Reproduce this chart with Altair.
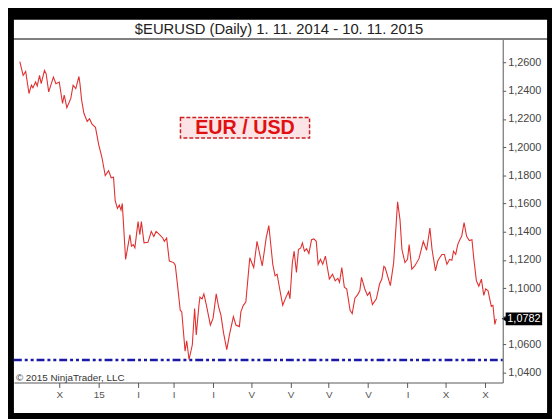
import altair as alt
import pandas as pd

# ---- data (day = days since 1 Nov 2014) ----
days = [-1.0, 1.6, 3.6, 6.2, 8.1, 9.3, 11.4, 12.7, 14.5, 15.8, 18.4, 19.7, 21.7, 25.4, 27.4,
        30.0, 32.6, 33.9, 36.0, 39.1, 40.9, 43.0, 45.5, 46.3, 47.6, 49.4, 52.0, 53.8, 55.8,
        58.5, 61.0, 63.6, 66.2, 68.8, 70.9, 72.7, 74.0, 75.8, 77.3, 78.6, 79.6, 82.2, 85.6,
        86.8, 88.2, 89.5, 92.0, 93.4, 94.6, 96.7, 99.8, 102.4, 104.4, 106.2, 108.9, 111.4,
        112.7, 114.5, 116.6, 120.0, 121.3, 123.1, 125.2, 126.4, 127.7, 129.0, 130.3, 132.1,
        134.7, 136.5, 137.8, 139.9, 140.7, 142.4, 143.8, 145.8, 148.9, 151.0, 153.5, 155.4,
        157.2, 159.3, 161.8, 163.9, 167.0, 169.0, 171.7, 172.9, 174.8, 176.8, 179.9, 183.0,
        185.6, 189.7, 192.8, 194.9, 198.0, 199.8, 201.4, 203.2, 205.8, 208.4, 210.4, 211.5,
        213.4, 214.8, 216.6, 218.2, 220.0, 221.3, 222.9, 224.6, 226.4, 228.5, 230.3, 232.2,
        233.7, 235.5, 237.3, 239.4, 242.5, 245.0, 247.1, 249.2, 250.5, 252.3, 254.3, 256.2,
        258.8, 260.5, 262.6, 264.7, 266.5, 267.8, 270.4, 272.5, 274.3, 276.4, 279.5, 282.0,
        283.8, 285.4, 286.4, 290.5, 293.1, 296.2, 298.1, 299.6, 302.0, 304.0, 305.3, 307.4,
        309.7, 313.0, 316.4, 319.0, 321.6, 323.3, 326.0, 327.8, 329.3, 331.1, 333.0, 335.0,
        337.1, 338.9, 340.2, 341.9, 343.5, 345.4, 346.6, 348.5, 350.5, 352.6, 354.7, 356.2,
        358.2, 360.1, 362.1, 364.0, 365.5, 367.3, 369.9, 371.2, 372.7, 373.8]
rates = [1.2608, 1.2510, 1.2538, 1.2381, 1.2440, 1.2421, 1.2463, 1.2435, 1.2510, 1.2451,
         1.2545, 1.2521, 1.2393, 1.2498, 1.2451, 1.2463, 1.2311, 1.2370, 1.2281, 1.2346,
         1.2440, 1.2416, 1.2502, 1.2451, 1.2335, 1.2241, 1.2183, 1.2202, 1.2164, 1.2141,
         1.2020, 1.1927, 1.1799, 1.1834, 1.1783, 1.1787, 1.1620, 1.1566, 1.1589, 1.1554,
         1.1601, 1.1204, 1.1379, 1.1298, 1.1309, 1.1286, 1.1472, 1.1379, 1.1472, 1.1321,
         1.1325, 1.1402, 1.1367, 1.1402, 1.1379, 1.1356, 1.1332, 1.1356, 1.1192, 1.1181,
         1.1162, 1.1018, 1.0843, 1.0831, 1.0692, 1.0552, 1.0626, 1.0493, 1.0598, 1.0855,
         1.0668, 1.0878, 1.0936, 1.0924, 1.0959, 1.0878, 1.0738, 1.0785, 1.0959, 1.0866,
         1.0808, 1.0680, 1.0563, 1.0668, 1.0797, 1.0738, 1.0727, 1.0831, 1.0878, 1.0901,
         1.1216, 1.1146, 1.1332, 1.1157, 1.1356, 1.1444, 1.1169, 1.1087, 1.1099, 1.1006,
         1.0878, 1.0936, 1.0976, 1.0924, 1.1181, 1.1262, 1.1111, 1.1274, 1.1286, 1.1321,
         1.1262, 1.1279, 1.1246, 1.1344, 1.1349, 1.1332, 1.1169, 1.1204, 1.1169, 1.1227,
         1.1064, 1.1099, 1.1052, 1.1069, 1.1041, 1.1146, 1.1006, 1.0994, 1.0843, 1.0820,
         1.0929, 1.0952, 1.0983, 1.1076, 1.0994, 1.0948, 1.0971, 1.0883, 1.0924, 1.1029,
         1.1064, 1.1154, 1.1146, 1.1018, 1.1181, 1.1612, 1.1484, 1.1274, 1.1181, 1.1204,
         1.1309, 1.1134, 1.1157, 1.1209, 1.1332, 1.1269, 1.1426, 1.1274, 1.1122, 1.1192,
         1.1216, 1.1239, 1.1239, 1.1169, 1.1204, 1.1197, 1.1262, 1.1239, 1.1309, 1.1349,
         1.1367, 1.1465, 1.1367, 1.1337, 1.1344, 1.1204, 1.1052, 1.1013, 1.1064, 1.0948,
         1.0994, 1.0983, 1.0871, 1.0878, 1.0743, 1.0782]

month_days = [30, 61, 92, 120, 151, 181, 212, 242, 273, 304, 334, 365]
month_labels = ["X", "15", "I", "I", "I", "V", "V", "V", "V", "I", "X", "X"]
y_ticks = [1.04, 1.06, 1.08, 1.10, 1.12, 1.14, 1.16, 1.18, 1.20, 1.22, 1.24, 1.26]
support_level = 1.049
last_rate = 1.0782
last_label = "1,0782"
title_text = "$EURUSD (Daily)  1. 11. 2014 - 10. 11. 2015"
badge_text = "EUR / USD"
copyright_text = "© 2015 NinjaTrader, LLC"

df = pd.DataFrame({"day": days, "rate": rates})
one = pd.DataFrame({"k": [0]})
lvl = pd.DataFrame({"level": [support_level]})
last = pd.DataFrame({"rate": [last_rate], "hi": [last_rate + 0.0045],
                     "lo": [last_rate - 0.0045], "label": [last_label]})

W, H = 496, 348
FONT = "Liberation Sans"
xs = alt.Scale(domain=[-5.66, 378.9], nice=False, zero=False)
ys = alt.Scale(domain=[1.0330, 1.2764], nice=False, zero=False)

lab_arr = "[" + ",".join("'%s'" % s for s in month_labels) + "]"
day_arr = "[" + ",".join(str(d) for d in month_days) + "]"

x_axis = alt.Axis(values=month_days, title=None, orient="bottom",
                  labelExpr=f"{lab_arr}[indexof({day_arr}, datum.value)]",
                  domainColor="#555", tickColor="#555", tickSize=5, labelColor="#555",
                  labelFont=FONT, labelFontSize=10, labelPadding=2, grid=False, zindex=1,
                  labelOverlap=False)
# the 1,0800 label is covered by the last-price badge in the reference
y_axis = alt.Axis(values=y_ticks, title=None, orient="right",
                  labelExpr="abs(datum.value - 1.08) < 0.001 ? '' : replace(format(datum.value, '.4f'), '.', ',')",
                  domainColor="#555", tickColor="#555", tickSize=3, labelColor="#444",
                  labelFont=FONT, labelFontSize=11, labelPadding=2, grid=False, zindex=1,
                  labelOverlap=False)

panel = alt.Chart(one).mark_rect(color="white").encode(
    x=alt.value(0), x2=alt.value(541), y=alt.value(0), y2=alt.value(379))
title_bar = alt.Chart(one).mark_rect(color="white").encode(
    x=alt.value(0), x2=alt.value(541), y=alt.value(-20), y2=alt.value(-1))
title = alt.Chart(one).mark_text(font=FONT, fontSize=15, color="#222", baseline="middle").encode(
    x=alt.value(269), y=alt.value(-10.5), text=alt.value(title_text))

line = alt.Chart(df).mark_line(color="#e03030", strokeWidth=1.1).encode(
    x=alt.X("day:Q", scale=xs, axis=x_axis),
    y=alt.Y("rate:Q", scale=ys, axis=y_axis))

support = alt.Chart(lvl).mark_rule(color="#1a1aa6", strokeWidth=2.6,
                                   strokeDash=[8, 3, 3, 3, 3, 3]).encode(
    x=alt.value(0), x2=alt.value(W), y=alt.Y("level:Q", scale=ys, axis=y_axis))

badge_box = alt.Chart(one).mark_rect(fill="#fbe3e6", stroke="#cc2020", strokeWidth=1.5,
                                     strokeDash=[4, 2]).encode(
    x=alt.value(169), x2=alt.value(300), y=alt.value(79), y2=alt.value(100))
badge = alt.Chart(one).mark_text(font=FONT, fontSize=20, fontWeight="bold", color="#e01010",
                                 baseline="middle").encode(
    x=alt.value(234.5), y=alt.value(90), text=alt.value(badge_text))

copyright = alt.Chart(one).mark_text(font=FONT, fontSize=10, color="#333", align="left",
                                     baseline="middle").encode(
    x=alt.value(2), y=alt.value(343), text=alt.value(copyright_text))

marker_box = alt.Chart(last).mark_rect(color="black").encode(
    x=alt.value(499), x2=alt.value(536),
    y=alt.Y("hi:Q", scale=ys, axis=y_axis), y2="lo:Q")
marker_tip = alt.Chart(last).mark_point(shape="triangle-left", filled=True, color="black",
                                        size=50, opacity=1).encode(
    x=alt.value(498), y=alt.Y("rate:Q", scale=ys, axis=y_axis))
marker_text = alt.Chart(last).mark_text(font=FONT, fontSize=11, color="white",
                                        baseline="middle").encode(
    x=alt.value(517.5), y=alt.Y("rate:Q", scale=ys, axis=y_axis), text="label:N")

chart = alt.layer(panel, title_bar, title, badge_box, badge, copyright, line, support,
                  marker_box, marker_tip, marker_text).properties(
    width=W, height=H, background="black",
    padding={"left": 6, "top": 29, "right": 50, "bottom": 34},
    autosize=alt.AutoSizeParams(type="none")
).configure_view(stroke=None).configure_axis(labelOverlap=False)

chart.save("out.html", embed_options={"renderer": "svg", "actions": False})
